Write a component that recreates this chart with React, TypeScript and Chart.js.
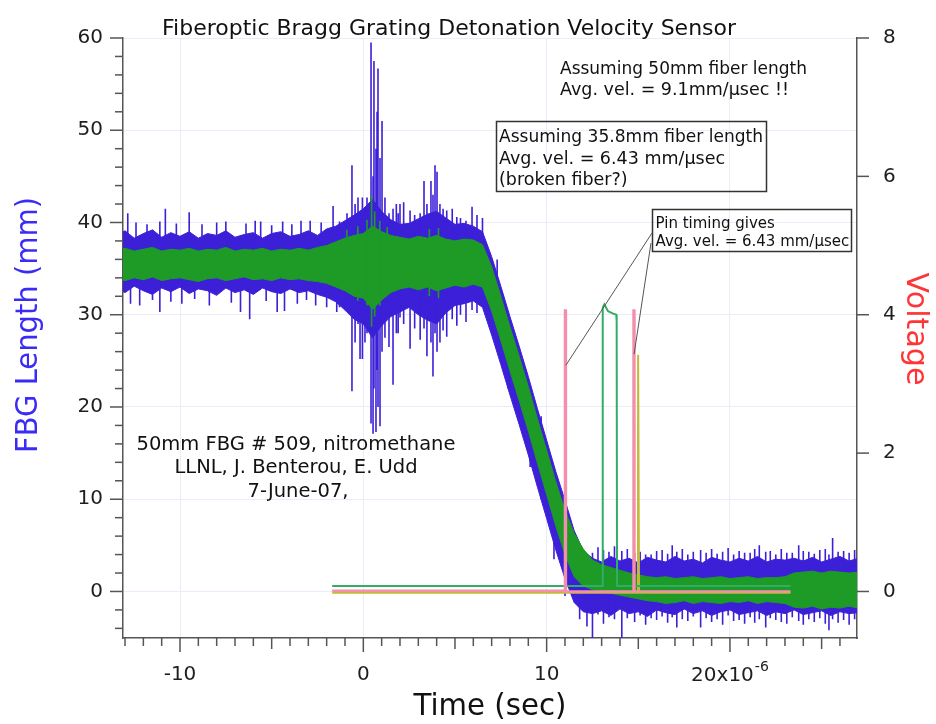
import React, { useEffect, useRef } from 'react';
import { Chart, registerables } from 'chart.js';

Chart.register(...registerables);

const FAMILY = '"DejaVu Sans", "Lucida Grande", sans-serif';

// ---------- axes ----------
const X_MIN = -13.11;
const X_MAX = 26.93;
const Y_MIN = -5.044;
const Y_MAX = 60;
const Y2_MIN = -0.6725;
const Y2_MAX = 8;
const xTicks = [-10, 0, 10, 20];
const yTicks = [0, 10, 20, 30, 40, 50, 60];
const y2Ticks = [0, 2, 4, 6, 8];

// ---------- FBG length traces (time in µs, length in mm), envelope of the noisy signals ----------
const bandX = [
  -13.5, -13, -12.5, -12, -11.5, -11, -10.5, -10, -9.5, -9,
  -8.5, -8, -7.5, -7, -6.5, -6, -5.5, -5, -4.5, -4,
  -3.5, -3, -2.5, -2, -1.5, -1, -0.5, 0, 0.5, 1,
  1.5, 2, 2.5, 3, 3.5, 4, 4.5, 5, 5.5, 6,
  6.5, 7, 7.5, 8, 8.5, 9, 9.5, 10, 10.5, 11,
  11.5, 12, 12.5, 13, 13.5, 14, 14.5, 15, 15.5, 16,
  16.5, 17, 17.5, 18, 18.5, 19, 19.5, 20, 20.5, 21,
  21.5, 22, 22.5, 23, 23.5, 24, 24.5, 25, 25.5, 26,
  26.5, 27,
];
const blueHi = [
  38.6, 39.1, 38.3, 38.8, 39.2, 38.4, 38.9, 38.5, 39.0, 38.3,
  38.8, 38.6, 39.1, 38.4, 38.7, 38.9, 38.3, 38.8, 39.0, 38.5,
  38.7, 39.1, 38.6, 39.3, 39.6, 40.2, 40.8, 41.5, 42.5, 41.2,
  40.3, 39.8, 39.9, 40.4, 40.9, 41.2, 40.5, 39.8, 39.9, 39.6,
  39.0, 36.3, 33.1, 29.8, 26.6, 23.3, 19.8, 16.4, 13.0, 9.9,
  6.6, 4.4, 3.6, 3.2, 3.8, 3.3, 3.6, 3.1, 3.7, 3.4,
  3.2, 3.8, 3.3, 3.5, 3.1, 3.7, 3.4, 3.2, 3.6, 3.3,
  3.8, 3.2, 3.5, 3.4, 3.6, 3.3, 3.7, 3.2, 3.5, 3.8,
  3.3, 3.6,
];
const blueLo = [
  32.9, 32.4, 33.1, 32.6, 32.2, 32.9, 32.5, 33.0, 32.3, 32.8,
  32.6, 32.1, 32.9, 32.4, 32.7, 32.2, 32.9, 32.5, 32.3, 32.8,
  32.4, 32.6, 32.2, 31.9, 31.4, 30.5, 29.5, 29.0, 27.5, 28.8,
  29.8, 30.3, 30.8, 30.0, 29.4, 29.0, 30.2, 31.0, 31.2, 31.5,
  30.8, 27.8, 24.6, 21.3, 18.1, 14.8, 11.3, 7.9, 4.5, 1.4,
  -1.2, -2.2, -2.4, -2.1, -2.6, -1.9, -2.4, -2.2, -2.7, -2.0,
  -2.3, -2.5, -1.9, -2.4, -2.1, -2.6, -2.2, -2.0, -2.5, -2.3,
  -2.1, -2.6, -2.2, -2.4, -2.0, -2.5, -2.3, -2.1, -2.6, -2.2,
  -2.4, -2.3,
];
const greenHi = [
  37.0, 37.2, 36.9, 37.1, 37.3, 36.9, 37.1, 37.0, 37.2, 36.9,
  37.1, 37.0, 37.3, 36.9, 37.1, 37.0, 37.2, 36.9, 37.1, 37.0,
  37.2, 37.0, 37.3, 37.5, 37.9, 38.3, 38.6, 38.8, 39.6, 39.0,
  38.6, 38.4, 38.2, 38.5, 38.3, 38.6, 38.2, 38.0, 38.2, 38.1,
  37.6, 35.2, 32.0, 28.7, 25.5, 22.2, 18.7, 15.3, 11.9, 8.8,
  6.3, 4.6, 3.4, 2.9, 2.6, 2.3, 2.0, 1.8, 1.6, 1.5,
  1.6, 1.4, 1.5, 1.6, 1.4, 1.5, 1.6, 1.4, 1.5, 1.6,
  1.4, 1.5, 1.5, 1.6, 2.0, 2.1, 2.2, 2.0, 2.2, 2.1,
  2.0, 2.1,
];
const greenLo = [
  33.9, 33.7, 34.0, 33.8, 34.1, 33.7, 33.9, 34.0, 33.8, 33.6,
  33.9, 34.0, 33.7, 33.9, 34.1, 33.8, 33.9, 33.7, 34.0, 33.8,
  33.9, 33.7, 33.6, 33.4, 33.0, 32.6, 32.0, 31.8, 30.6, 31.6,
  32.4, 32.8, 33.0, 32.7, 33.0, 32.6, 32.9, 33.2, 33.0, 33.3,
  33.0, 30.4, 27.2, 23.9, 20.7, 17.4, 13.9, 10.5, 7.1, 4.0,
  1.6, 0.6, 0.2, 0.0, -0.2, -0.4, -0.6, -0.8, -1.0, -1.1,
  -1.3, -1.2, -1.0, -1.3, -1.1, -1.2, -1.3, -1.1, -1.2, -1.0,
  -1.3, -1.1, -1.2, -1.3, -1.7, -1.8, -1.6, -1.9, -1.7, -1.8,
  -1.6, -1.8,
];

// individual noise spikes of the FBG traces (time µs, low mm, high mm)
const blueSpikeX = [
  -12.85, -12.7, -12.4, -12.2, -11.8, -11.5, -11.1, -10.8, -10.5, -10.2,
  -9.9, -9.5, -9.2, -8.8, -8.4, -8.0, -7.5, -7.2, -6.7, -6.4,
  -6.2, -5.9, -5.6, -5.3, -5.0, -4.7, -4.4, -4.3, -3.9, -3.6,
  -3.4, -3.1, -2.9, -2.6, -2.3, -2.0, -1.65, -1.45, -1.3, -0.89,
  -0.62, -0.45, -0.29, -0.18, -0.05, 0.09, 0.2, 0.42, 0.53, 0.58,
  0.69, 0.75, 0.8, 0.91, 1.02, 1.18, 1.4, 1.62, 1.8, 1.9,
  2.0, 2.2, 2.55, 2.8, 3.1, 3.31, 3.47, 3.69, 3.8, 3.91,
  4.02, 4.18, 4.35, 4.55, 4.85, 5.1, 5.3, 5.6, 5.93, 6.2,
  6.5, 7.3, 7.9, 8.3, 9.1, 9.7, 10.4, 11.0, 11.8, 12.2,
  12.5, 12.8, 13.1, 13.4, 13.7, 14.1, 14.4, 14.8, 15.1, 15.4,
  15.7, 16.0, 16.3, 16.6, 16.85, 17.1, 17.4, 17.7, 18.0, 18.4,
  18.7, 19.0, 19.3, 19.6, 19.9, 20.2, 20.5, 20.8, 21.1, 21.35,
  21.6, 21.95, 22.2, 22.5, 22.8, 23.1, 23.4, 23.75, 24.0, 24.3,
  24.6, 24.9, 25.2, 25.4, 25.6, 25.9, 26.2, 26.5, 26.8,
];
const blueSpikeLo = [
  35.5, 31.2, 35.5, 31.0, 35.5, 31.6, 30.3, 35.5, 31.4, 35.5,
  31.2, 35.5, 31.7, 35.5, 31.0, 35.5, 35.5, 31.3, 30.3, 35.5,
  29.5, 35.5, 35.5, 31.5, 35.5, 30.3, 35.5, 30.4, 35.5, 31.2,
  35.5, 31.6, 35.5, 31.0, 35.5, 30.8, 35.5, 30.3, 30.8, 30.5,
  21.7, 27.0, 29.0, 25.2, 25.2, 27.0, 28.0, 18.2, 17.1, 22.0,
  17.3, 24.0, 20.0, 17.9, 26.0, 27.5, 26.5, 22.4, 28.0, 28.0,
  29.7, 29.0, 26.3, 28.5, 27.3, 28.5, 25.5, 27.0, 23.3, 28.0,
  26.0, 27.0, 28.3, 27.6, 29.5, 28.8, 30.0, 29.2, 30.5, 30.2,
  31.0, 27.5, 22.0, 20.0, 13.5, 10.0, 3.5, -0.5, -3.0, -3.8,
  -5.2, -2.5, -3.5, -2.8, -3.0, -5.2, -2.9, -3.3, -2.6, -3.6,
  -2.9, -3.1, -2.7, -3.4, -2.8, -3.9, -3.0, -3.2, -2.7, -3.9,
  -2.9, -3.3, -3.0, -3.6, -2.6, -3.2, -3.1, -3.5, -2.8, -3.4,
  -3.0, -3.9, -2.9, -3.1, -3.3, -3.5, -2.8, -3.2, -3.6, -3.0,
  -3.3, -2.9, -3.5, -4.2, -3.0, -3.4, -3.1, -3.6, -3.0,
];
const blueSpikeHi = [
  41.0, 35.5, 40.0, 35.5, 39.8, 35.5, 40.1, 41.5, 35.5, 39.9,
  35.5, 41.1, 35.5, 39.8, 35.5, 40.0, 40.1, 35.5, 35.5, 39.9,
  35.5, 40.2, 40.1, 35.5, 39.7, 35.5, 40.1, 35.5, 39.8, 35.5,
  40.2, 35.5, 40.2, 35.5, 40.0, 35.5, 41.8, 35.5, 40.1, 41.0,
  46.2, 42.0, 42.7, 41.0, 42.7, 41.5, 42.7, 59.5, 45.0, 57.5,
  48.0, 52.0, 56.7, 47.0, 51.0, 42.7, 41.0, 41.5, 42.0, 41.0,
  42.0, 42.2, 41.3, 40.8, 41.0, 44.5, 42.0, 44.5, 43.0, 46.2,
  45.5, 42.0, 41.5, 41.3, 41.5, 40.6, 40.5, 40.2, 41.7, 40.8,
  40.5, 36.0, 30.0, 27.0, 22.0, 19.0, 13.0, 11.0, 4.6, 4.0,
  4.2, 4.8, 4.5, 4.3, 4.9, 4.4, 4.6, 4.2, 4.3, 4.0,
  4.0, 4.4, 4.5, 4.1, 5.0, 4.3, 4.6, 4.0, 4.3, 4.5,
  4.2, 4.6, 4.1, 4.3, 4.7, 4.0, 4.4, 4.2, 4.2, 4.6,
  5.0, 4.3, 4.4, 4.0, 4.6, 4.2, 4.2, 5.0, 4.4, 4.3,
  4.1, 4.5, 4.6, 4.0, 5.8, 4.3, 4.4, 4.2, 4.5,
];
const greenSpikeX = [-0.9, -0.3, 0.2, 0.45, 0.62, 0.9, 1.3, 3.6, 4.1];
const greenSpikeLo = [32.5, 31.5, 31.0, 28.7, 29.8, 31.0, 32.2, 32.0, 31.8];
const greenSpikeHi = [39.2, 39.6, 40.3, 42.9, 41.2, 40.2, 39.5, 39.3, 39.4];

// ---------- voltage (pin) traces, right axis (V) ----------
const greenVX = [-1.7, 13.04, 13.06, 13.15, 13.35, 13.6, 13.8, 13.82, 13.84, 23.3];
const greenVY = [0.08, 0.08, 4.1, 4.15, 4.05, 4.02, 4.0, 3.9, 0.08, 0.08];
const pinkVX = [-1.7, 10.99, 11.0, 11.04, 11.05, 14.73, 14.74, 14.78, 14.79, 23.3];
const pinkVY = [0.01, 0.01, 4.06, 4.06, 0.0, 0.0, 4.06, 4.06, 0.0, 0.0];
const oliveVX = [-1.7, 14.98, 14.99, 15.03, 15.04, 23.3];
const oliveVY = [-0.02, -0.02, 3.42, 3.42, -0.02, -0.02];

// leader-line targets (µs, V)
const pinA = [11.05, 3.27];
const pinB = [14.77, 3.43];

// ---------- texts ----------
const TITLE = 'Fiberoptic Bragg Grating Detonation Velocity Sensor';
const NOTE1 = ['Assuming 50mm fiber length', 'Avg. vel. = 9.1mm/\u00B5sec !!'];
const NOTE2 = ['Assuming 35.8mm fiber length', 'Avg. vel. = 6.43 mm/\u00B5sec', '(broken fiber?)'];
const NOTE3 = ['Pin timing gives', 'Avg. vel. = 6.43 mm/\u00B5sec'];
const NOTE4 = ['50mm FBG # 509, nitromethane', 'LLNL, J. Benterou, E. Udd', '7-June-07,'];

const BLUE = '#3c20d8';
const GREEN = '#1e9a26';
const GREENV = '#30ad66';
const PINK = '#f38fab';
const OLIVE = '#c5b93a';
const AXIS = '#555555';
const GRID = '#ebebfa';
const TICK_COLOR = '#1e1e1e';

const decorPlugin = {
  id: 'decor',
  afterDraw(chart: any) {
    const { ctx, chartArea: a, scales } = chart;
    const sx = scales.x;
    const sy = scales.y;
    const sy2 = scales.y2;
    const seg = (x1: number, y1: number, x2: number, y2: number) => {
      ctx.beginPath();
      ctx.moveTo(x1, y1);
      ctx.lineTo(x2, y2);
      ctx.stroke();
    };
    ctx.save();
    // tick marks
    ctx.strokeStyle = AXIS;
    ctx.lineWidth = 1.5;
    for (let v = -4; v <= 60; v += 2) {
      const p = sy.getPixelForValue(v);
      seg(a.left - (v % 10 === 0 ? 13 : 8), p, a.left, p);
    }
    for (const v of y2Ticks) {
      const p = sy2.getPixelForValue(v);
      seg(a.right, p, a.right + 12, p);
    }
    for (let v = -13; v <= 26; v += 1) {
      const p = sx.getPixelForValue(v);
      const len = v % 10 === 0 ? 14 : v % 5 === 0 ? 11 : 8;
      seg(p, a.bottom, p, a.bottom + len);
    }

    // "20x10^-6" tick label
    ctx.fillStyle = TICK_COLOR;
    ctx.textBaseline = 'alphabetic';
    ctx.textAlign = 'left';
    ctx.font = `20px ${FAMILY}`;
    const main = '20x10';
    const w1 = ctx.measureText(main).width;
    ctx.font = `14px ${FAMILY}`;
    const sup = '-6';
    const w2 = ctx.measureText(sup).width;
    const cx = sx.getPixelForValue(20);
    const start = cx - (w1 + w2 + 1) / 2;
    ctx.font = `20px ${FAMILY}`;
    ctx.fillText(main, start, 681);
    ctx.font = `14px ${FAMILY}`;
    ctx.fillText(sup, start + w1 + 1, 671);

    // axis titles
    ctx.font = `31px ${FAMILY}`;
    ctx.textAlign = 'center';
    ctx.fillStyle = '#111';
    ctx.fillText('Time (sec)', (a.left + a.right) / 2, 715, 153);

    ctx.save();
    ctx.translate(37, 325);
    ctx.rotate(-Math.PI / 2);
    ctx.fillStyle = '#3b2cf5';
    ctx.fillText('FBG Length (mm)', 0, 0, 256);
    ctx.restore();

    ctx.save();
    ctx.translate(907, 329);
    ctx.rotate(Math.PI / 2);
    ctx.fillStyle = '#ff3535';
    ctx.fillText('Voltage', 0, 0, 113);
    ctx.restore();

    // title
    ctx.textAlign = 'left';
    ctx.fillStyle = '#111';
    ctx.font = `22px ${FAMILY}`;
    ctx.fillText(TITLE, 162, 34.5, 577);

    // annotations
    ctx.font = `17.5px ${FAMILY}`;
    ctx.fillText(NOTE1[0], 560, 73.5, 247);
    ctx.fillText(NOTE1[1], 560, 94.5, 235);
    ctx.fillText(NOTE2[0], 499, 141.5, 264);
    ctx.fillText(NOTE2[1], 499, 163.5, 240);
    ctx.fillText(NOTE2[2], 499, 185);
    ctx.font = `15px ${FAMILY}`;
    ctx.fillText(NOTE3[0], 655.5, 228.3);
    ctx.fillText(NOTE3[1], 655.5, 246, 194);

    ctx.font = `19.5px ${FAMILY}`;
    ctx.textAlign = 'center';
    ctx.fillText(NOTE4[0], 296, 449.5, 320);
    ctx.fillText(NOTE4[1], 296, 473);
    ctx.fillText(NOTE4[2], 298, 496.5);

    // boxes
    ctx.strokeStyle = '#333';
    ctx.lineWidth = 1.5;
    ctx.strokeRect(496.5, 121.5, 270, 70);
    ctx.strokeRect(652.5, 209.5, 199, 42);

    // leader lines
    ctx.strokeStyle = '#555';
    ctx.lineWidth = 1;
    seg(652, 233, sx.getPixelForValue(pinA[0]), sy2.getPixelForValue(pinA[1]));
    seg(651, 243, sx.getPixelForValue(pinB[0]), sy2.getPixelForValue(pinB[1]));
    ctx.restore();
  },
};

export default function App() {
  const ref = useRef<HTMLCanvasElement>(null);
  useEffect(() => {
    const canvas = ref.current;
    if (!canvas) return;
    Chart.defaults.font.family = FAMILY;
    const toPts = (xs: number[], ys: number[]) => xs.map((x, i) => ({ x, y: ys[i] }));
    const spikes = (xs: number[], lo: number[], hi: number[]) =>
      xs.flatMap((x, i) => [
        { x, y: lo[i] },
        { x, y: hi[i] },
        { x, y: null },
      ]);
    const line = (data: any[], color: string, width: number, order: number, extra: any = {}) => ({
      type: 'line',
      data,
      borderColor: color,
      backgroundColor: color,
      borderWidth: width,
      pointRadius: 0,
      pointHoverRadius: 0,
      tension: 0,
      fill: false,
      spanGaps: false,
      order,
      yAxisID: 'y',
      ...extra,
    });
    const tickFont = { family: FAMILY, size: 20 };
    const chart = new Chart(canvas, {
      type: 'line',
      data: {
        datasets: [
          line(toPts(bandX, blueLo), BLUE, 1, 20),
          line(toPts(bandX, blueHi), BLUE, 1, 20, { fill: '-1' }),
          line(spikes(blueSpikeX, blueSpikeLo, blueSpikeHi), BLUE, 1.6, 19),
          line(toPts(bandX, greenLo), GREEN, 1, 18),
          line(toPts(bandX, greenHi), GREEN, 1, 18, { fill: '-1' }),
          line(spikes(greenSpikeX, greenSpikeLo, greenSpikeHi), GREEN, 1.6, 17),
          line(toPts(oliveVX, oliveVY), OLIVE, 2, 4, { yAxisID: 'y2' }),
          line(toPts(greenVX, greenVY), GREENV, 2, 3, { yAxisID: 'y2' }),
          line(toPts(pinkVX, pinkVY), PINK, 2.5, 2, { yAxisID: 'y2' }),
        ] as any,
      },
      options: {
        responsive: false,
        animation: false,
        events: [],
        layout: { padding: { top: 19, left: 0, right: 0, bottom: 0 } },
        plugins: {
          legend: { display: false },
          tooltip: { enabled: false },
          title: { display: false },
        },
        scales: {
          x: {
            type: 'linear',
            min: X_MIN,
            max: X_MAX,
            afterBuildTicks: (s: any) => {
              s.ticks = xTicks.map((v) => ({ value: v }));
            },
            afterFit: (s: any) => {
              s.height = 86;
            },
            ticks: {
              callback: (v: any) => (v === 20 ? '' : String(v)),
              font: tickFont,
              color: TICK_COLOR,
              padding: 25,
              maxRotation: 0,
              autoSkip: false,
            },
            grid: { color: GRID, drawTicks: false, lineWidth: 1 },
            border: { display: true, color: AXIS, width: 1.5 },
          },
          y: {
            type: 'linear',
            position: 'left',
            min: Y_MIN,
            max: Y_MAX,
            afterBuildTicks: (s: any) => {
              s.ticks = yTicks.map((v) => ({ value: v }));
            },
            afterFit: (s: any) => {
              s.width = 123;
            },
            ticks: { font: tickFont, color: TICK_COLOR, padding: 20, autoSkip: false },
            grid: { color: GRID, drawTicks: false, lineWidth: 1 },
            border: { display: true, color: AXIS, width: 1.5 },
          },
          y2: {
            type: 'linear',
            position: 'right',
            min: Y2_MIN,
            max: Y2_MAX,
            afterBuildTicks: (s: any) => {
              s.ticks = y2Ticks.map((v) => ({ value: v }));
            },
            afterFit: (s: any) => {
              s.width = 79;
            },
            ticks: { font: tickFont, color: TICK_COLOR, padding: 26, autoSkip: false },
            grid: { color: 'rgba(0,0,0,0)', drawTicks: false, drawOnChartArea: false },
            border: { display: true, color: AXIS, width: 1.5 },
          },
        },
      } as any,
      plugins: [decorPlugin],
    });
    return () => chart.destroy();
  }, []);
  return (
    <div style={{ position: 'absolute', left: 0, top: 0, width: 936, height: 724, background: '#fff' }}>
      <canvas ref={ref} width={936} height={724} style={{ display: 'block' }} />
    </div>
  );
}
